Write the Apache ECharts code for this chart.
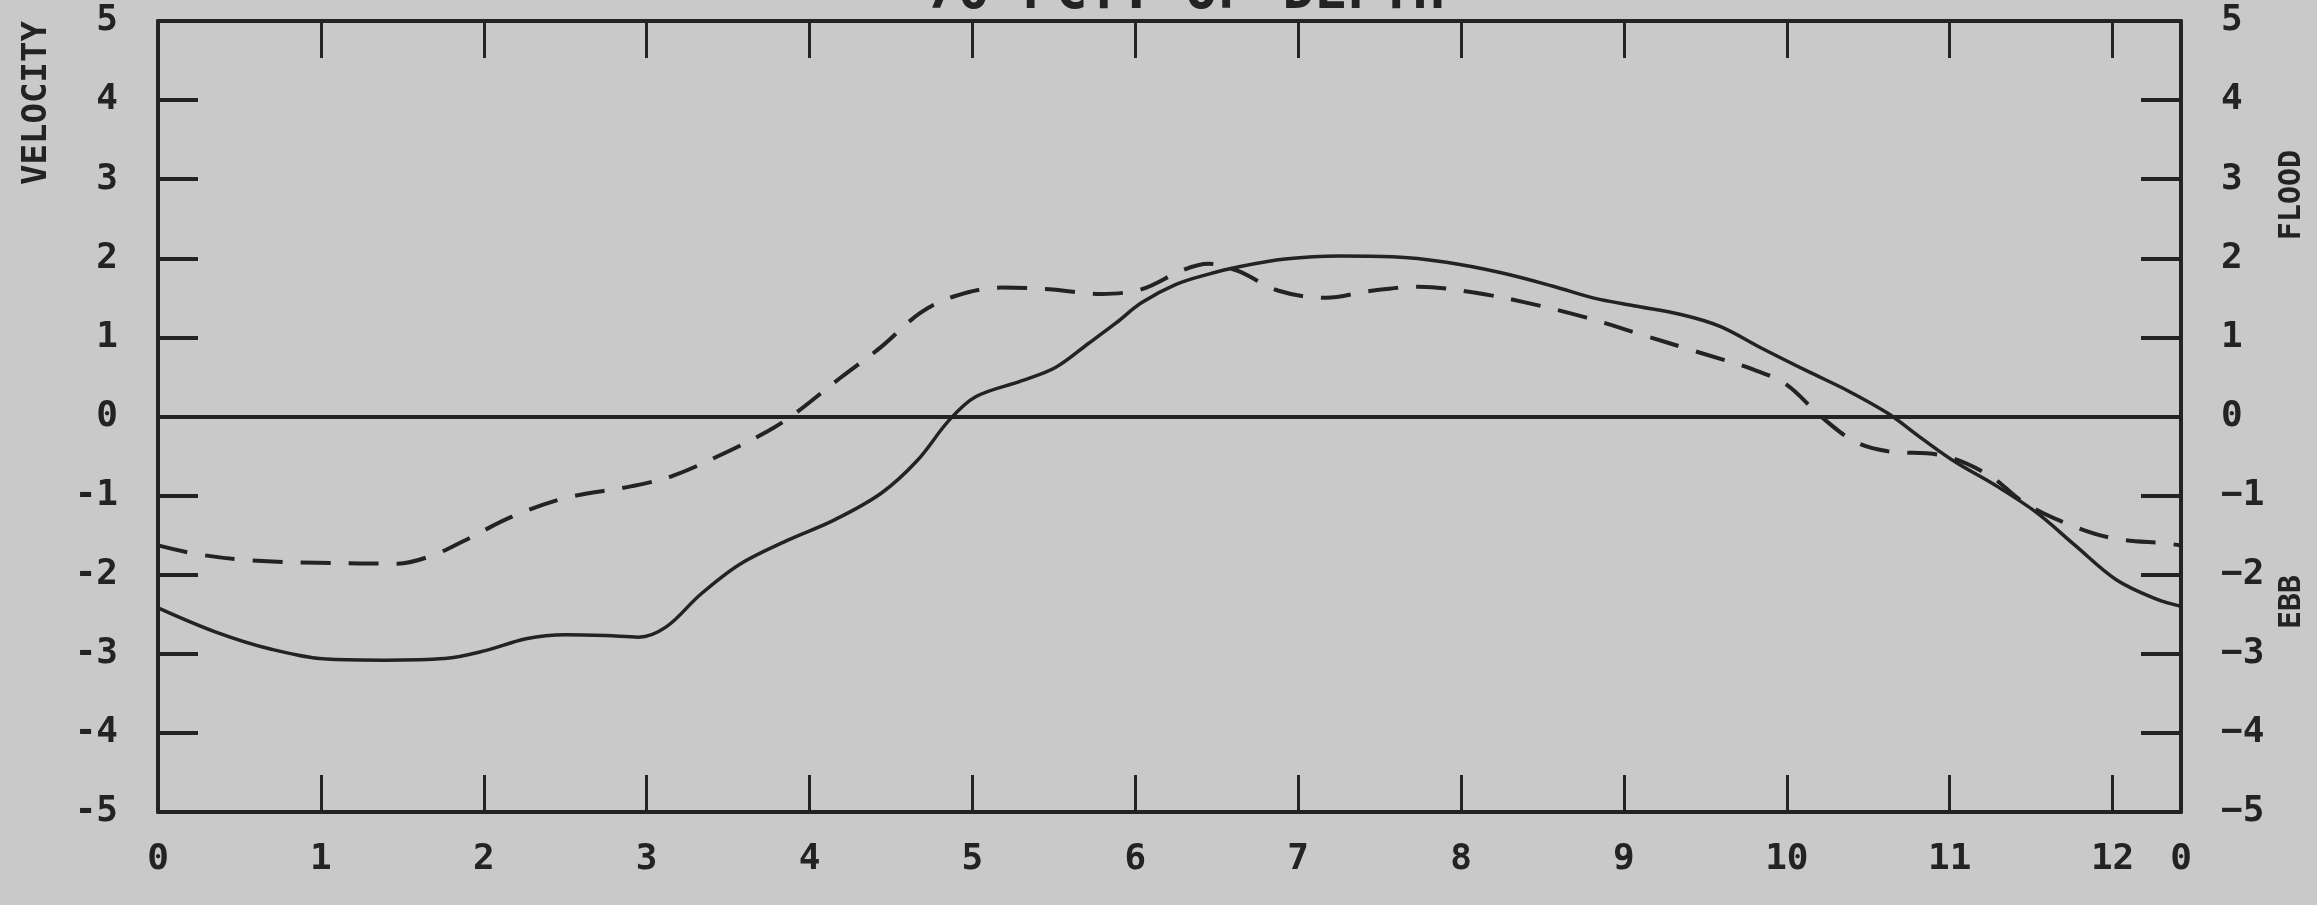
<!DOCTYPE html>
<html>
<head>
<meta charset="utf-8">
<script src="https://cdn.jsdelivr.net/npm/echarts@6/dist/echarts.min.js"></script>
<style>
html,body{margin:0;padding:0;background:#c8c9c8;}
#chart{width:2317px;height:905px;}
</style>
</head>
<body>
<div id="chart"></div>
<script>
// Hours (x) and velocity (y)
const solidX = [0, 0.36, 0.69, 1.06, 1.39, 1.76, 2.01, 2.26, 2.5, 2.75, 2.95, 3.12, 3.33, 3.57, 3.86, 4.15, 4.44, 4.66, 4.86, 5.02, 5.3, 5.51, 5.71, 5.88, 6.04, 6.25, 6.45, 6.63, 6.92, 7.25, 7.58, 7.91, 8.24, 8.56, 8.81, 9.06, 9.35, 9.59, 9.84, 10.13, 10.38, 10.62, 10.83, 11.03, 11.28, 11.53, 11.77, 12.02, 12.27, 12.42];
const solidY = [-2.42, -2.73, -2.94, -3.07, -3.08, -3.06, -2.96, -2.81, -2.76, -2.77, -2.79, -2.66, -2.25, -1.87, -1.57, -1.31, -0.97, -0.56, -0.04, 0.25, 0.45, 0.62, 0.92, 1.18, 1.44, 1.67, 1.8, 1.89, 1.99, 2.03, 2.02, 1.95, 1.82, 1.65, 1.5, 1.4, 1.29, 1.14, 0.87, 0.57, 0.32, 0.04, -0.28, -0.57, -0.87, -1.21, -1.63, -2.06, -2.31, -2.4];
const dashX = [0, 0.24, 0.57, 0.98, 1.47, 1.68, 1.88, 2.17, 2.5, 2.91, 3.16, 3.45, 3.74, 3.9, 4.19, 4.44, 4.68, 4.89, 5.18, 5.47, 5.79, 6.04, 6.29, 6.45, 6.63, 6.88, 7.17, 7.45, 7.74, 8.07, 8.4, 8.77, 9.1, 9.43, 9.8, 10.0, 10.21, 10.42, 10.62, 10.95, 11.24, 11.45, 11.69, 11.98, 12.35, 12.42];
const dashY = [-1.63, -1.74, -1.82, -1.85, -1.86, -1.76, -1.57, -1.27, -1.03, -0.88, -0.75, -0.49, -0.19, 0.02, 0.49, 0.88, 1.31, 1.52, 1.63, 1.61, 1.55, 1.61, 1.85, 1.93, 1.84, 1.59, 1.5, 1.59, 1.64, 1.57, 1.44, 1.25, 1.04, 0.83, 0.59, 0.4, 0, -0.32, -0.44, -0.49, -0.74, -1.08, -1.33, -1.53, -1.61, -1.63];
const xMin = 0, xMax = 12.42, yMin = -5, yMax = 5;
const titleText = '70 PCT. OF DEPTH';
const yName = 'VELOCITY';
const floodText = 'FLOOD';
const ebbText = 'EBB';

const INK = '#232323';
const FONT = 'DejaVu Sans Mono';
const chart = echarts.init(document.getElementById('chart'), null, {renderer: 'canvas'});

const labelStyle = {color: INK, fontFamily: FONT, fontWeight: 'bold', fontSize: 36};
function xAxisCfg(pos, showLabels) {
  return {
    type: 'value', position: pos, min: xMin, max: xMax, interval: 1,
    axisLine: {show: true, onZero: false, lineStyle: {color: INK, width: 4}},
    axisTick: {show: true, inside: true, length: 37, lineStyle: {color: INK, width: 3}},
    splitLine: {show: false},
    axisLabel: Object.assign({show: showLabels, margin: 30, showMaxLabel: true, showMinLabel: true,
      formatter: v => (v > 12.2 ? '0' : String(Math.round(v)))}, labelStyle)
  };
}
function yAxisCfg(pos, fmt) {
  return {
    type: 'value', position: pos, min: yMin, max: yMax, interval: 1,
    axisLine: {show: true, onZero: false, lineStyle: {color: INK, width: 4}},
    axisTick: {show: true, inside: true, length: 40, lineStyle: {color: INK, width: 4}},
    splitLine: {show: false},
    axisLabel: Object.assign({margin: 40, formatter: fmt}, labelStyle)
  };
}

const option = {
  animation: false,
  backgroundColor: '#c8c9c8',
  grid: {left: 158, right: 136, top: 21, bottom: 93},
  xAxis: [xAxisCfg('bottom', true), xAxisCfg('top', false)],
  yAxis: [
    yAxisCfg('left', v => (v < 0 ? '-' + Math.abs(v) : String(v))),
    yAxisCfg('right', v => (v < 0 ? '\u2212' + Math.abs(v) : String(v)))
  ],
  graphic: [
    {type: 'text', x: 1185, y: -6, style: {text: titleText, fill: INK, font: 'bold 54px "DejaVu Sans Mono"', textAlign: 'center', textVerticalAlign: 'middle'}},
    {type: 'text', x: 37, y: 103, rotation: Math.PI / 2, style: {text: yName, fill: INK, font: 'bold 34px "DejaVu Sans Mono"', textAlign: 'center', textVerticalAlign: 'middle'}},
    {type: 'text', x: 2292, y: 195, rotation: Math.PI / 2, style: {text: floodText, fill: INK, font: 'bold 30px "DejaVu Sans Mono"', textAlign: 'center', textVerticalAlign: 'middle'}},
    {type: 'text', x: 2292, y: 602, rotation: Math.PI / 2, style: {text: ebbText, fill: INK, font: 'bold 30px "DejaVu Sans Mono"', textAlign: 'center', textVerticalAlign: 'middle'}}
  ],
  series: [
    {
      type: 'line', name: 'solid', xAxisIndex: 0, yAxisIndex: 0,
      data: solidX.map((x, i) => [x, solidY[i]]),
      showSymbol: false, smooth: 0.35, clip: true,
      lineStyle: {color: INK, width: 3.5, type: 'solid'},
      markLine: {silent: true, symbol: ['none', 'none'], label: {show: false},
        lineStyle: {color: INK, width: 4, type: 'solid'}, data: [{yAxis: 0}]},
      z: 3
    },
    {
      type: 'line', name: 'dashed', xAxisIndex: 0, yAxisIndex: 0,
      data: dashX.map((x, i) => [x, dashY[i]]),
      showSymbol: false, smooth: 0.35, clip: true,
      lineStyle: {color: INK, width: 4, type: [30, 18]},
      z: 3
    }
  ]
};
chart.setOption(option);
</script>
</body>
</html>
